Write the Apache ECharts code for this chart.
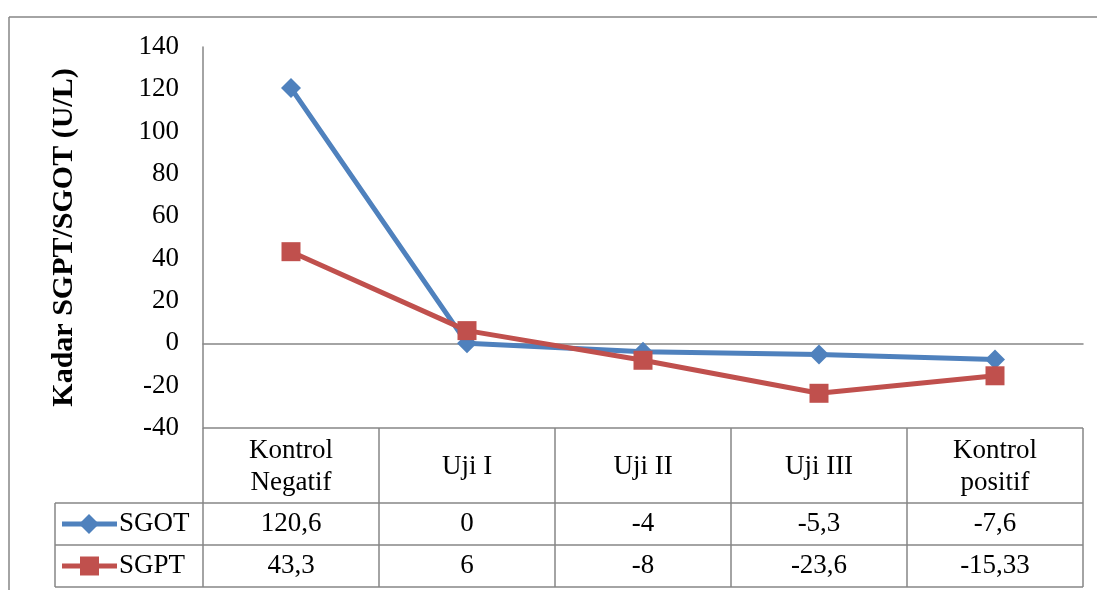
<!DOCTYPE html>
<html>
<head>
<meta charset="utf-8">
<script src="https://cdn.jsdelivr.net/npm/echarts@6/dist/echarts.min.js"></script>
<style>
  html, body { margin: 0; padding: 0; background: #fff; }
  #chart { width: 1097px; height: 590px; }
</style>
</head>
<body>
<div id="chart"></div>
<script>
// data
var categories = ["Kontrol\nNegatif", "Uji I", "Uji II", "Uji III", "Kontrol\npositif"];
var sgot = [120.6, 0, -4, -5.3, -7.6];
var sgpt = [43.3, 6, -8, -23.6, -15.33];
var seriesNames = ["SGOT", "SGPT"];
var yMin = -40;
var yMax = 140;
var yStep = 20;

(function () {
  var gray = "#868686";
  var fontFam = '"Liberation Serif", "Times New Roman", serif';
  var colors = ["#4F81BD", "#C0504D"];
  var fs = 27;

  var chartDom = document.getElementById("chart");
  var myChart = echarts.init(chartDom);

  var option = {
    animation: false,
    grid: { left: 203, right: 14, top: 47, bottom: 162 },
    xAxis: {
      type: "category",
      data: categories,
      boundaryGap: true,
      axisLine: { onZero: true, lineStyle: { color: gray, width: 1.5 } },
      axisTick: { show: false },
      axisLabel: { show: false },
    },
    yAxis: {
      type: "value",
      min: yMin,
      max: yMax,
      interval: yStep,
      name: "Kadar SGPT/SGOT (U/L)",
      nameLocation: "middle",
      nameGap: 124,
      nameTextStyle: { fontFamily: fontFam, fontSize: 30, fontWeight: "bold", color: "#000" },
      axisLine: { show: true, lineStyle: { color: gray, width: 1.5 } },
      axisTick: { show: false },
      splitLine: { show: false },
      axisLabel: { fontFamily: fontFam, fontSize: fs, color: "#000", margin: 24 },
    },
    series: [
      {
        name: seriesNames[0],
        type: "line",
        data: sgot,
        symbol: "diamond",
        symbolSize: 20,
        lineStyle: { color: colors[0], width: 5 },
        itemStyle: { color: colors[0] },
      },
      {
        name: seriesNames[1],
        type: "line",
        data: sgpt,
        symbol: "rect",
        symbolSize: 19,
        lineStyle: { color: colors[1], width: 5 },
        itemStyle: { color: colors[1] },
      },
    ],
  };

  option && myChart.setOption(option);

  // data table under the plot, placed from the axis scales
  function fmt(v) {
    return String(v).replace(".", ",");
  }

  var c0 = myChart.convertToPixel({ xAxisIndex: 0 }, 0);
  var c1 = myChart.convertToPixel({ xAxisIndex: 0 }, 1);
  var band = c1 - c0;
  var tableTop = myChart.convertToPixel({ yAxisIndex: 0 }, yMin);
  var headH = 75;
  var rowH = 42;
  var tLeft = c0 - band / 2;
  var tRight = c0 + band * (categories.length - 0.5);
  var legendLeft = 55;
  var rowsY = [tableTop + headH, tableTop + headH + rowH, tableTop + headH + 2 * rowH];

  var els = [];
  function line(x1, y1, x2, y2) {
    els.push({
      type: "line",
      shape: { x1: x1, y1: y1, x2: x2, y2: y2 },
      style: { stroke: gray, lineWidth: 1.5 },
      silent: true,
    });
  }
  function text(t, x, y, align) {
    els.push({
      type: "text",
      style: {
        text: t, x: x, y: y, align: align || "center", verticalAlign: "middle",
        fontFamily: fontFam, fontSize: fs, lineHeight: 32, fill: "#000",
      },
      silent: true,
    });
  }

  // outer frame (top and left)
  line(9, 17, 1097, 17);
  line(9, 17, 9, 590);

  // grid lines of the table
  line(tLeft, tableTop, tRight, tableTop);
  rowsY.forEach(function (y) { line(legendLeft, y, tRight, y); });
  line(legendLeft, rowsY[0], legendLeft, rowsY[2]);
  line(tLeft, tableTop, tLeft, rowsY[2]);
  for (var i = 0; i < categories.length; i++) {
    var xr = c0 + band * (i + 0.5);
    line(xr, tableTop, xr, rowsY[2]);
  }

  // header and values
  var rows = [sgot, sgpt];
  categories.forEach(function (cat, i) {
    var cx = myChart.convertToPixel({ xAxisIndex: 0 }, i);
    text(cat, cx, tableTop + headH / 2 + 1);
    rows.forEach(function (vals, r) {
      text(fmt(vals[i]), cx, rowsY[r] + rowH / 2);
    });
  });

  // legend keys
  rows.forEach(function (vals, r) {
    var cy = rowsY[r] + rowH / 2;
    els.push({
      type: "line",
      shape: { x1: 62, y1: cy, x2: 117, y2: cy },
      style: { stroke: colors[r], lineWidth: 5 },
      silent: true,
    });
    if (r === 0) {
      els.push({
        type: "polygon",
        shape: { points: [[89, cy - 10], [99, cy], [89, cy + 10], [79, cy]] },
        style: { fill: colors[r] },
        silent: true,
      });
    } else {
      els.push({
        type: "rect",
        shape: { x: 80, y: cy - 9.5, width: 19, height: 19 },
        style: { fill: colors[r] },
        silent: true,
      });
    }
    text(seriesNames[r], 119, cy, "left");
  });

  myChart.setOption({ graphic: { elements: els } });
})();
</script>
</body>
</html>
